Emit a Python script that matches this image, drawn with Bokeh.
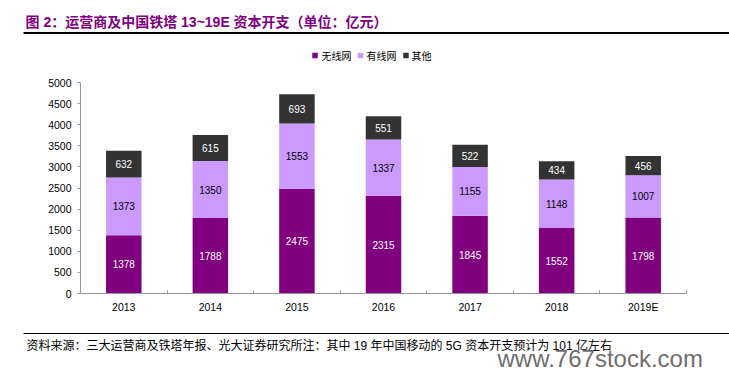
from bokeh.plotting import figure
from bokeh.models import ColumnDataSource, FixedTicker, Range1d
from bokeh.core.properties import value
from bokeh.embed import file_html
from bokeh.resources import INLINE

years = ["2013", "2014", "2015", "2016", "2017", "2018", "2019E"]
wireless = [1378, 1788, 2475, 2315, 1845, 1552, 1798]
wired = [1373, 1350, 1553, 1337, 1155, 1148, 1007]
other = [632, 615, 693, 551, 522, 434, 456]
series_names = ["无线网", "有线网", "其他"]
colors = ["#800080", "#CC99FF", "#333333"]
label_colors = ["white", "black", "white"]
y_ticks = list(range(0, 5001, 500))

title_text = "图 2：运营商及中国铁塔 13~19E 资本开支（单位：亿元）"
footer_text = "资料来源：三大运营商及铁塔年报、光大证券研究所注：其中 19 年中国移动的 5G 资本开支预计为 101 亿左右"
watermark = "www.767stock.com"

FONT = "'Liberation Sans', 'Noto Sans CJK SC'"
CJK = "'Noto Sans CJK SC'"
W = 729


def blank(height):
    f = figure(width=W, height=height, output_backend="svg", toolbar_location=None,
               x_range=Range1d(0, W), y_range=Range1d(height, 0),
               x_axis_location=None, y_axis_location=None,
               min_border=0, min_border_left=0, min_border_right=0,
               min_border_top=0, min_border_bottom=0)
    f.grid.visible = False
    f.outline_line_color = None
    return f


# ---------- top: title, rule, legend ----------
top = blank(68)
top.text(x=[25], y=[21], text=[title_text], text_font=value(FONT),
         text_font_size="14px", text_font_style="bold", text_color="#7F007F",
         text_baseline="middle")
top.segment(x0=[23], y0=[32.5], x1=[W], y1=[32.5], line_color="black", line_width=2)
leg_sq_x = [314.5, 360, 405.5]
leg_tx_x = [321, 366, 411]
top.rect(x=leg_sq_x, y=[55] * 3, width=5.5, height=5.5, fill_color=colors, line_color=None)
top.text(x=leg_tx_x, y=[55] * 3, text=series_names,
         text_font=value(CJK), text_font_size="10px", text_color="black",
         text_baseline="middle")

# ---------- main chart ----------
xs = [i + 0.5 for i in range(len(years))]
src = ColumnDataSource(dict(x=xs, w1=wireless, w2=wired, w3=other))

p = figure(width=W, height=250, output_backend="svg", toolbar_location=None,
           x_range=Range1d(0, len(years)), y_range=Range1d(0, 5000),
           min_border_left=80, min_border_right=43, min_border_top=14,
           min_border_bottom=25)
p.outline_line_color = None
p.grid.visible = False

rs = p.vbar_stack(["w1", "w2", "w3"], x="x", width=0.41, color=colors,
                  line_color=None, source=src)

stack = [wireless, wired, other]
for k, vals in enumerate(stack):
    base = [sum(s[i] for s in stack[:k]) for i in range(len(years))]
    ys = [b + v / 2 for b, v in zip(base, vals)]
    p.text(x=xs, y=ys, text=[str(v) for v in vals], text_align="center",
           text_baseline="middle", text_font=value("Liberation Sans"),
           text_font_size="10px", text_color=label_colors[k])

p.xaxis.ticker = FixedTicker(ticks=xs, minor_ticks=list(range(len(years) + 1)))
p.xaxis.major_label_overrides = {x: y for x, y in zip(xs, years)}
p.xaxis.major_tick_out = 0
p.xaxis.major_tick_in = 0
p.xaxis.minor_tick_in = 3
p.xaxis.minor_tick_out = 0
p.xaxis.axis_line_color = "#999999"
p.xaxis.minor_tick_line_color = "#999999"
p.xaxis.major_label_text_font = "Liberation Sans"
p.xaxis.major_label_text_font_size = "10.5px"
p.xaxis.major_label_text_color = "black"
p.xaxis.major_label_standoff = 7

p.yaxis.ticker = FixedTicker(ticks=y_ticks)
p.yaxis.minor_tick_line_color = None
p.yaxis.major_tick_out = 3
p.yaxis.major_tick_in = 0
p.yaxis.axis_line_color = "#999999"
p.yaxis.major_tick_line_color = "#999999"
p.yaxis.major_label_text_font = "Liberation Sans"
p.yaxis.major_label_text_font_size = "10.5px"
p.yaxis.major_label_text_color = "black"
p.yaxis.major_label_standoff = 6

# ---------- bottom: rule, source note, watermark ----------
bot = blank(53)
bot.segment(x0=[23], y0=[15], x1=[W], y1=[15], line_color="black", line_width=1)
bot.text(x=[26], y=[27], text=[footer_text], text_font=value(FONT),
         text_font_size="12px", text_color="black", text_baseline="middle")
bot.text(x=[497], y=[40], text=[watermark], text_font=value("Liberation Sans"),
         text_font_size="24px", text_color="#6e6e6e", text_baseline="alphabetic")

open("out.html", "w").write(file_html([top, p, bot], INLINE))
